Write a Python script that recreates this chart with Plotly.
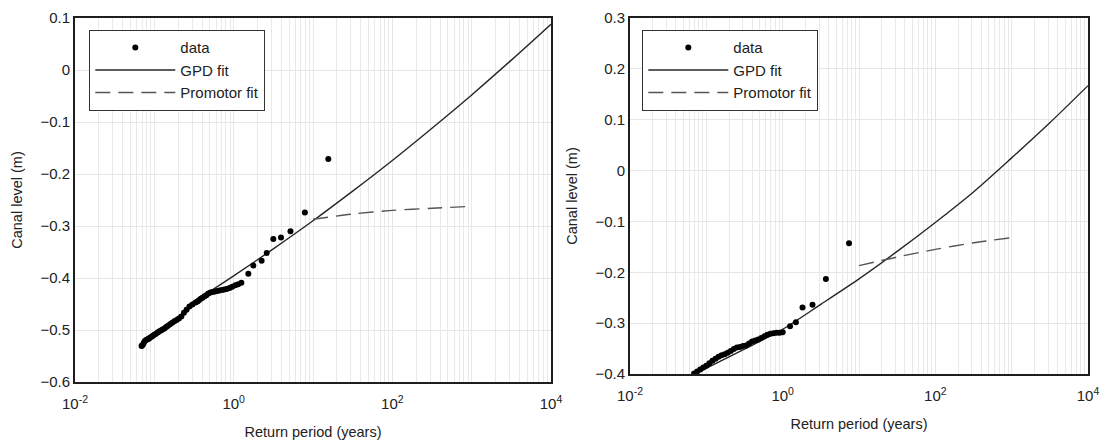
import plotly.graph_objects as go

# ---------------- data ----------------
# Left panel
left_data_T = [0.069, 0.070, 0.072, 0.074, 0.076, 0.079, 0.082, 0.085, 0.088, 0.092,
               0.096, 0.100, 0.105, 0.110, 0.115, 0.121, 0.127, 0.134, 0.141, 0.149,
               0.158, 0.168, 0.179, 0.191, 0.204, 0.219, 0.236, 0.255, 0.277, 0.302,
               0.331, 0.350, 0.365, 0.385, 0.405, 0.430, 0.452, 0.480, 0.510, 0.545,
               0.580, 0.620, 0.660, 0.710, 0.760, 0.820, 0.890, 0.960, 1.05, 1.14, 1.25,
               1.53, 1.77, 2.25, 2.61, 3.16, 3.95, 5.2, 7.9, 15.6]
left_data_level = [-0.531, -0.530, -0.528, -0.524, -0.521, -0.519, -0.518, -0.517, -0.515, -0.513,
                   -0.511, -0.509, -0.507, -0.505, -0.503, -0.501, -0.499, -0.497, -0.494, -0.492,
                   -0.489, -0.486, -0.483, -0.481, -0.478, -0.474, -0.467, -0.461, -0.455, -0.451,
                   -0.447, -0.445, -0.443, -0.440, -0.438, -0.435, -0.433, -0.430, -0.428, -0.427,
                   -0.426, -0.425, -0.424, -0.423, -0.422, -0.421, -0.419, -0.417, -0.414, -0.412, -0.409,
                   -0.392, -0.376, -0.367, -0.352, -0.325, -0.322, -0.310, -0.274, -0.171]
left_gpd_T = [0.28, 0.5, 1, 3.16, 10, 31.6, 100, 316, 1000, 3162, 10000]
left_gpd_level = [-0.450, -0.426, -0.396, -0.344, -0.290, -0.233, -0.174, -0.112, -0.048, 0.019, 0.088]
left_prom_T = [10, 31.6, 100, 316, 1000]
left_prom_level = [-0.287, -0.277, -0.270, -0.266, -0.262]

# Right panel
right_data_T = [0.0692, 0.0759, 0.0832, 0.0912, 0.100, 0.1096, 0.1202, 0.1318, 0.1445, 0.1585,
                0.1738, 0.1905, 0.2089, 0.2291, 0.2512, 0.2754, 0.302, 0.3311, 0.3631, 0.3981,
                0.4365, 0.4786, 0.5248, 0.5754, 0.631, 0.6918, 0.7586, 0.8318, 0.912, 1.0,
                1.25, 1.49, 1.82, 2.46, 3.68, 7.4]
right_data_level = [-0.399, -0.395, -0.391, -0.387, -0.384, -0.379, -0.374, -0.370, -0.366, -0.363,
                    -0.361, -0.358, -0.355, -0.351, -0.348, -0.347, -0.345, -0.344, -0.340, -0.336,
                    -0.334, -0.332, -0.329, -0.326, -0.323, -0.321, -0.320, -0.319, -0.319, -0.318,
                    -0.306, -0.298, -0.269, -0.264, -0.213, -0.143]
right_gpd_T = [0.0708, 0.316, 1, 3.16, 10, 31.6, 100, 316, 1000, 3162, 10000]
right_gpd_level = [-0.400, -0.351, -0.312, -0.263, -0.213, -0.159, -0.102, -0.042, 0.025, 0.094, 0.167]
right_prom_T = [10, 31.6, 100, 316, 1000]
right_prom_level = [-0.187, -0.170, -0.155, -0.142, -0.132]

x_tickvals = [0.01, 1, 100, 10000]
x_ticktext = ["10<sup>-2</sup>", "10<sup>0</sup>", "10<sup>2</sup>", "10<sup>4</sup>"]

# ---------------- figure ----------------
W, H = 1105, 444
FONT = "Liberation Sans, Arial, sans-serif"


def px_x(x):
    return x / W


def px_y(y):
    return 1 - y / H


fig = go.Figure()


def add_panel(T, lv, gT, gl, pT, pl, xa, ya, leg):
    fig.add_trace(go.Scatter(x=gT, y=gl, mode="lines", name="GPD fit",
                             line=dict(color="#262626", width=1.4, shape="spline", smoothing=0.8),
                             xaxis=xa, yaxis=ya, legend=leg, legendrank=2))
    fig.add_trace(go.Scatter(x=pT, y=pl, mode="lines", name="Promotor fit",
                             line=dict(color="#555555", width=1.4, dash="15px,8px",
                                       shape="spline", smoothing=0.8),
                             xaxis=xa, yaxis=ya, legend=leg, legendrank=3))
    fig.add_trace(go.Scatter(x=T, y=lv, mode="markers", name="data",
                             marker=dict(color="black", size=6),
                             xaxis=xa, yaxis=ya, legend=leg, legendrank=1))


add_panel(left_data_T, left_data_level, left_gpd_T, left_gpd_level,
          left_prom_T, left_prom_level, "x", "y", "legend")
add_panel(right_data_T, right_data_level, right_gpd_T, right_gpd_level,
          right_prom_T, right_prom_level, "x2", "y2", "legend2")

minor_vals = [m * 10.0 ** k for k in range(-2, 4) for m in range(1, 10)]

xcommon = dict(type="log", range=[-2, 4], tickvals=x_tickvals, ticktext=x_ticktext,
               showgrid=True, gridcolor="#e6e6e6", gridwidth=1,
               minor=dict(tickvals=minor_vals, showgrid=True, gridcolor="#e9e9e9", gridwidth=1, ticks=""),
               showline=True, mirror=True, linecolor="#1e1e1e", linewidth=1.8,
               ticks="", ticklabelstandoff=7,
               tickfont=dict(size=15, color="#222", family=FONT),
               title=dict(text="Return period (years)", font=dict(size=14.5, color="#222", family=FONT), standoff=16),
               zeroline=False, automargin=False)
ycommon = dict(dtick=0.1, showgrid=True, gridcolor="#e6e6e6", gridwidth=1,
               showline=True, mirror=True, linecolor="#1e1e1e", linewidth=1.8,
               ticks="", tickfont=dict(size=15, color="#222", family=FONT),
               title=dict(text="Canal level (m)", font=dict(size=14.5, color="#222", family=FONT), standoff=14),
               zeroline=False, automargin=False)

legcommon = dict(bgcolor="white", bordercolor="#333", borderwidth=1.3,
                 font=dict(size=15, color="#222", family=FONT), itemwidth=80,
                 xanchor="left", yanchor="top", tracegroupgap=0)

fig.update_layout(
    width=W, height=H, margin=dict(l=0, r=0, t=0, b=0),
    paper_bgcolor="white", plot_bgcolor="white",
    showlegend=True,
    xaxis=dict(domain=[px_x(75), px_x(551)], anchor="y", **xcommon),
    yaxis=dict(domain=[px_y(382), px_y(18)], range=[-0.6, 0.1], anchor="x", **ycommon),
    xaxis2=dict(domain=[px_x(630), px_x(1088)], anchor="y2", **xcommon),
    yaxis2=dict(domain=[px_y(374), px_y(18)], range=[-0.4, 0.3], anchor="x2", **ycommon),
    legend=dict(x=px_x(89), y=px_y(30), **legcommon),
    legend2=dict(x=px_x(642), y=px_y(30), **legcommon),
)

fig.write_html("out.html", config={"displayModeBar": False},
               post_script="document.body.style.margin='0';document.body.style.overflow='hidden';")
